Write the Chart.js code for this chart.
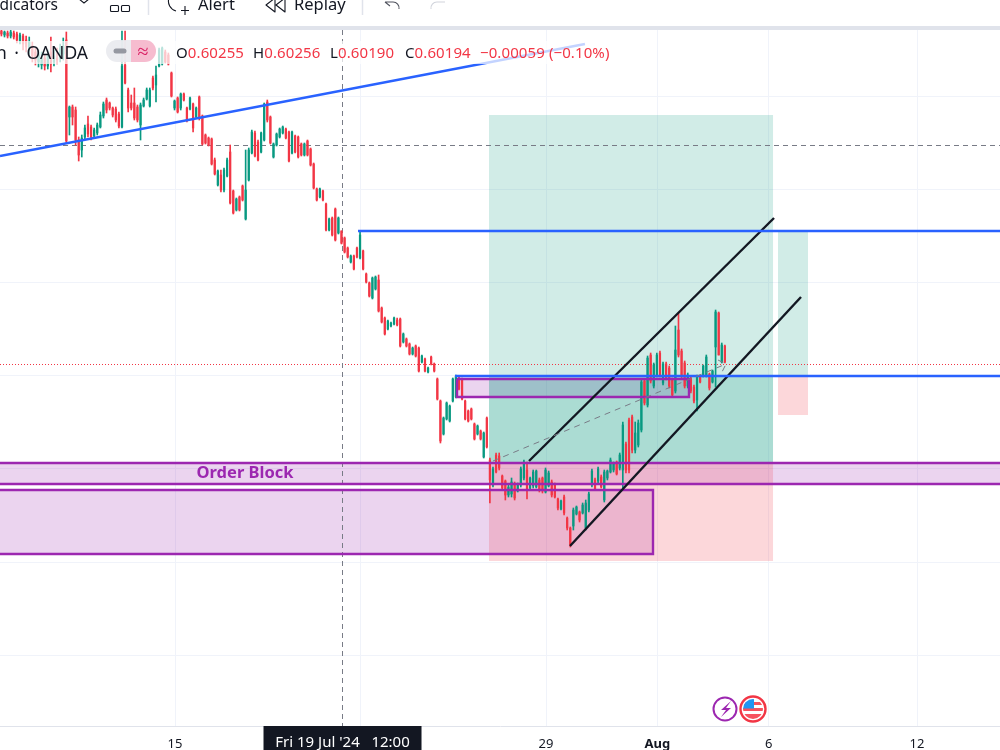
<!DOCTYPE html>
<html>
<head>
<meta charset="utf-8">
<title>NZD/USD OANDA</title>
<script src="https://cdn.jsdelivr.net/npm/chart.js@4/dist/chart.umd.js"></script>
<style>
  html, body { margin: 0; padding: 0; background: #fff; overflow: hidden; }
  #wrap { position: relative; width: 1000px; height: 750px; overflow: hidden; font-family: "Noto Sans", sans-serif; color: #131722; }
  canvas { position: absolute; left: 0; top: 0; }
  #toolbar { position: absolute; left: 0; top: 0; width: 1000px; height: 26px; background: #fff; border-bottom: 4px solid #e0e3eb; overflow: hidden; }
  #toolbar span { position: absolute; top: -6px; font-size: 16.5px; line-height: 20px; white-space: nowrap; }
  #toolbar svg { position: absolute; left: 0; top: 0; }
  #legend { position: absolute; left: 0; top: 41px; width: 612px; height: 23px; background: rgba(255,255,255,.72); }
  #legend span { position: absolute; top: 0; line-height: 23px; font-size: 15px; letter-spacing: .1px; white-space: nowrap; color: #f23645; }
  #legend span b { font-weight: 400; color: #131722; }
  #legend .name { right: 524px; font-size: 17.5px; word-spacing: 3px; letter-spacing: 0; color: #131722; }
  #badges { position: absolute; left: 0; top: 0; }
</style>
</head>
<body>
<div id="wrap">
  <canvas id="chart" width="1000" height="750"></canvas>

  <div id="legend">
    <span class="name">NZD/USD · 2h · OANDA</span>
    <span style="left:176px"><b>O</b>0.60255</span>
    <span style="left:253px"><b>H</b>0.60256</span>
    <span style="left:330px"><b>L</b>0.60190</span>
    <span style="left:405px"><b>C</b>0.60194</span>
    <span style="left:480px">−0.00059 (−0.10%)</span>
  </div>

  <svg id="badges" width="1000" height="750" fill="none">
    <path d="M117 40h14v22h-14a11 11 0 0 1 0-22z" fill="#e9eaee" fill-opacity=".9"/>
    <path d="M131 40h14a11 11 0 0 1 0 22h-14z" fill="#f5b8cc" fill-opacity=".95"/>
    <line x1="116" y1="51" x2="124" y2="51" stroke="#9598a1" stroke-width="5" stroke-linecap="round"/>
    <text x="143" y="58" text-anchor="middle" font-size="20" font-family="Noto Sans" fill="#d81b60">≈</text>
    <!-- session and flag badges above the time axis -->
    <circle cx="725" cy="709" r="11.5" fill="#fff" stroke="#9c27b0" stroke-width="2"/>
    <path d="M731 701l-10 9h5l-5 7 10-9h-5z" fill="#9c27b0"/>
    <circle cx="753" cy="709" r="12.5" fill="#fff" stroke="#f23645" stroke-width="2.4"/>
    <clipPath id="flag"><circle cx="753" cy="709" r="10"/></clipPath>
    <g clip-path="url(#flag)">
      <rect x="743" y="699" width="20" height="20" fill="#fff"/>
      <rect x="743" y="702" width="20" height="3" fill="#f7525f"/>
      <rect x="743" y="708" width="20" height="3" fill="#f7525f"/>
      <rect x="743" y="714" width="20" height="5" fill="#f7525f"/>
      <rect x="743" y="699" width="11" height="9.500" fill="#2196f3"/>
    </g>
  </svg>

  <div id="toolbar">
    <span style="right:942px;font-size:15.5px">Indicators</span>
    <span style="left:198px">Alert</span>
    <span style="left:294px">Replay</span>
    <svg width="1000" height="26" fill="none" stroke="#131722" stroke-width="1.1">
      <path d="M79 -1l5 4 5-4"/>
      <rect x="110.500" y="5.500" width="8" height="6" rx="1"/>
      <rect x="121.500" y="5.500" width="8" height="6" rx="1"/>
      <line x1="148.500" y1="0" x2="148.500" y2="15" stroke="#e0e3eb" stroke-width="1.500"/>
      <path d="M169 -2a10 10 0 0 0 7 13"/>
      <path d="M185 6v9M181 10.500h8"/>
      <path d="M275 -2l-9 7 9 7zM285 -2l-9 7 9 7z" stroke-linejoin="round"/>
      <line x1="362.500" y1="0" x2="362.500" y2="15" stroke="#e0e3eb" stroke-width="1.500"/>
      <path d="M385 2l5 4M385 2h8a6 6 0 0 1 6 7" stroke="#50535e"/>
      <path d="M445 2h-8a6 6 0 0 0-6 7" stroke="#d1d4dc"/>
    </svg>
  </div>
</div>

<script>
// 2h candles, prices in points (1e-5). Day numbers count trading days from Mon 15 Jul.
const firstBarDay = -4.679;
const barsPerDay = 12;

const opens = [
  61255,61235,61245,61230,61245,61240,61205,61230,61210,61170,61180,61150,61100,61085,61120,61080,61150,61100,61120,61120,61140,61210,
  60825,60875,60860,60710,60660,60725,60790,60775,60730,60745,60775,60830,60910,60895,60870,60865,60840,60775,61085,60960,60895,60895,
  60875,60785,60880,60915,60880,61020,60985,61080,61090,61150,61135,61045,60870,60920,60870,60940,60870,60865,60890,60825,60925,60830,
  60735,60720,60715,60610,60485,60535,60460,60530,60650,60455,60360,60425,60480,60315,60510,60645,60745,60700,60650,60710,60900,60825,
  60625,60685,60725,60745,60765,60750,60645,60730,60725,60690,60635,60705,60665,60590,60465,60425,60455,60390,60260,60320,60365,60245,
  60255,60220,60170,60100,60130,60170,60120,60155,60040,59995,59920,59965,60010,59870,59820,59765,59780,59790,59810,59815,59700,59715,
  59690,59640,59680,59670,59600,59615,59550,59625,59590,59515,59405,59240,59315,59305,59405,59425,59520,59515,59405,59355,59365,59290,
  59240,59255,59125,59320,59110,58985,59135,59130,59030,59005,58935,58940,58990,58955,58985,59020,59060,58970,58980,58975,59010,59020,
  58950,58980,59000,58985,58915,58865,58925,58820,58770,58780,58840,58850,58845,58770,58860,58985,59010,59005,59025,58910,59020,59050,
  59060,59100,59070,59060,59190,59310,59325,59160,59185,59260,59505,59385,59635,59480,59535,59645,59495,59590,59570,59510,59455,59760,
  59655,59595,59480,59520,59475,59410,59530,59530,59535,59540,59500,59675,59845,59600,59680
];
const highs = [
  61260,61255,61255,61260,61255,61250,61245,61240,61230,61225,61200,61170,61160,61150,61135,61160,61225,61160,61170,61190,61220,61250,
  60880,60885,60875,60725,60735,60785,60830,60785,60770,60795,60850,60900,60920,60900,60875,60875,60850,61255,61255,60970,60935,60970,
  60885,60895,60920,60970,60970,61030,61080,61170,61175,61160,61145,61050,60910,60925,60945,60945,60875,60925,60895,60875,60930,60835,
  60740,60725,60720,60620,60560,60560,60570,60620,60685,60460,60420,60430,60485,60660,60670,60760,60755,60710,60750,60895,60910,60830,
  60695,60745,60770,60780,60770,60755,60755,60735,60730,60695,60695,60710,60670,60595,60470,60470,60460,60395,60320,60325,60370,60325,
  60256,60225,60175,60135,60135,60175,60255,60160,60045,60000,60025,60030,60035,59875,59825,59810,59800,59825,59820,59820,59745,59720,
  59695,59675,59685,59675,59635,59620,59575,59630,59595,59520,59410,59325,59400,59385,59520,59535,59525,59520,59410,59360,59370,59295,
  59285,59260,59250,59325,59120,59075,59145,59145,59035,59010,58985,59020,59000,58995,59075,59110,59100,59025,59060,59060,59020,59025,
  59070,59055,59010,58995,58920,58910,58935,58825,58775,58870,58880,58855,58895,58910,58950,59065,59020,59075,59035,59060,59060,59120,
  59100,59105,59145,59300,59200,59320,59335,59300,59310,59510,59515,59630,59645,59595,59645,59655,59600,59600,59580,59520,59780,59845,
  59665,59605,59545,59530,59485,59535,59535,59585,59635,59545,59560,59860,59850,59695,59685
];
const lows = [
  61230,61225,61220,61220,61215,61195,61190,61160,61150,61140,61100,61085,61075,61065,61060,61065,61050,61080,61090,61100,61110,60695,
  60735,60785,60685,60605,60625,60710,60725,60710,60720,60735,60770,60820,60845,60860,60825,60800,60770,60770,60990,60850,60860,60810,
  60800,60710,60875,60910,60875,60960,60900,61075,61085,61095,61085,60925,60860,60845,60860,60905,60800,60860,60750,60820,60810,60685,
  60690,60680,60585,60535,60480,60450,60450,60525,60390,60340,60355,60355,60405,60310,60505,60640,60625,60605,60645,60705,60800,60690,
  60620,60680,60720,60740,60715,60600,60640,60645,60620,60630,60630,60630,60580,60465,60405,60420,60405,60255,60255,60230,60205,60240,
  60190,60145,60120,60095,60060,60120,60115,60060,59995,59925,59915,59960,59850,59795,59735,59760,59775,59785,59780,59675,59695,59675,
  59635,59635,59625,59550,59595,59550,59545,59585,59550,59410,59195,59235,59310,59300,59400,59420,59460,59410,59310,59300,59310,59210,
  59235,59210,59120,59170,58895,58975,59045,59060,58960,58910,58925,58925,58910,58950,58975,59010,58915,58960,58970,58970,58950,58945,
  58945,58975,58925,58920,58860,58860,58835,58760,58675,58760,58835,58800,58840,58760,58850,58975,58960,58995,58970,58900,59010,59045,
  59050,59035,59060,58970,59045,59045,59145,59145,59175,59250,59385,59375,59495,59470,59525,59525,59485,59510,59470,59425,59445,59625,
  59520,59470,59470,59445,59395,59355,59495,59525,59525,59460,59495,59475,59635,59595,59595
];
const closes = [
  61240,61250,61230,61250,61225,61210,61235,61190,61175,61200,61130,61110,61140,61120,61080,61130,61090,61130,61110,61170,61180,60705,
  60875,60825,60710,60635,60720,60770,60740,60725,60760,60785,60835,60890,60860,60870,60835,60810,60780,61080,60995,60870,60870,60820,
  60810,60885,60910,60960,60960,60970,61035,61160,61170,61100,61090,60930,60905,60850,60940,60910,60810,60920,60770,60870,60820,60690,
  60695,60685,60590,60540,60555,60460,60560,60610,60395,60345,60415,60360,60410,60460,60660,60750,60630,60610,60745,60890,60810,60695,
  60690,60740,60765,60775,60720,60605,60750,60650,60625,60635,60690,60635,60585,60470,60410,60465,60410,60260,60315,60235,60210,60320,
  60194,60150,60125,60130,60065,60125,60235,60065,60000,59930,60020,60025,59855,59800,59740,59805,59795,59820,59785,59680,59740,59680,
  59640,59670,59630,59555,59630,59555,59570,59590,59555,59415,59205,59320,59395,59380,59515,59530,59465,59415,59315,59305,59315,59215,
  59280,59215,59245,59175,59010,59065,59050,59070,58970,58935,58975,59000,58920,58990,59065,59100,58960,59020,59050,59055,58960,58955,
  59060,59045,58935,58925,58870,58905,58845,58770,58685,58860,58875,58810,58885,58895,58940,59055,58965,59065,58975,59050,59055,59110,
  59095,59040,59135,59285,59060,59060,59160,59245,59295,59500,59395,59620,59505,59585,59635,59535,59590,59520,59480,59435,59660,59635,
  59530,59480,59535,59455,59405,59525,59500,59580,59625,59470,59555,59850,59635,59685,59600
];

// time axis
const xTickDays = [0, 5, 10, 13, 16, 20];
const xTickLabels = ["15", "22", "29", "Aug", "6", "12"];
const gridPrices = [60930, 60465, 60000, 59535, 59070, 58600, 58135];
const dayRange = [-4.717, 22.237];
const priceRange = [57780, 61260];

// crosshair and last price
const crossDay = 4.515;
const crossPrice = 60682.5;
const crossLabel = "Fri 19 Jul '24   12:00";
const lastPrice = 59587.5;

// drawn levels, [day, price] pairs
const trendLine = [[-4.717, 60630], [11.05, 61190]];
const resistance = [[4.933, 60255], [22.237, 60255]];
const support = [[7.547, 59530], [22.237, 59530]];
const channelUpper = [[9.542, 59105], [16.146, 60320]];
const channelLower = [[10.647, 58680], [16.873, 59925]];
const riskPath = [[8.571, 59105], [14.852, 59590]];
const riskTail = [[14.636, 59610], [14.852, 59590], [14.744, 59550]];

// boxes as [dayFrom, dayTo, priceTop, priceBottom]
const profitZone = [8.464, 16.119, 60835, 59100];
const profitZoneInner = [8.464, 16.119, 59530, 59100];
const lossZone = [8.464, 16.119, 59100, 58605];
const smallProfit = [16.253, 17.062, 60255, 59530];
const smallLoss = [16.253, 17.062, 59530, 59335];
const orderBlock = [-6, 24, 59095, 58990];
const lowerBlock = [-6, 12.884, 58960, 58640];
const entryBlock = [7.601, 13.854, 59515, 59425];
const blockLabel = { text: "Order Block", day: 1.887, price: 59045 };

const UP = "#089981", DOWN = "#f23645", BLUE = "#2962ff", PURPLE = "#9c27b0", INK = "#131722", CROSS = "#787b86";
const TEAL_FILL = "rgba(8,153,129,.19)", RED_FILL = "rgba(242,54,69,.2)", PURPLE_FILL = "rgba(156,39,176,.2)";
const FONT = '"Noto Sans", sans-serif';

const barDays = opens.map((_, i) => firstBarDay + i / barsPerDay);
const barColors = opens.map((o, i) => (closes[i] >= o ? UP : DOWN));

function pts(pairs) {
  return pairs.map(p => ({ x: p[0], y: p[1] }));
}

function line(pairs, color, width, dash, order) {
  return {
    type: "line", data: pts(pairs), borderColor: color, borderWidth: width,
    borderDash: dash || [], pointRadius: 0, fill: false, tension: 0, order: order
  };
}

function rectPath(b) {
  return [[b[0], b[2]], [b[1], b[2]], [b[1], b[3]], [b[0], b[3]], [b[0], b[2]]];
}

function zone(b, color) {
  return {
    type: "line", data: pts(rectPath(b)), backgroundColor: color, borderWidth: 0,
    pointRadius: 0, fill: "shape", tension: 0, order: 6
  };
}

// boxes with a fill under the candles and an outline over them
function outlined(b) {
  return [zone(b, PURPLE_FILL), line(rectPath(b), PURPLE, 2.4, [], 2)];
}

// crosshair time tag and the zone caption
const overlayText = {
  id: "overlayText",
  afterDraw(chart) {
    const { ctx, scales, chartArea } = chart;
    const cx = scales.x.getPixelForValue(crossDay);
    ctx.save();
    ctx.fillStyle = INK;
    ctx.fillRect(cx - 79, chartArea.bottom, 158, 750 - chartArea.bottom);
    ctx.fillStyle = "#fff";
    ctx.font = "15px " + FONT;
    ctx.textAlign = "center";
    ctx.textBaseline = "middle";
    ctx.fillText(crossLabel, cx, 743);
    ctx.fillStyle = PURPLE;
    ctx.font = "bold 16.5px " + FONT;
    ctx.fillText(blockLabel.text, scales.x.getPixelForValue(blockLabel.day), scales.y.getPixelForValue(blockLabel.price));
    ctx.restore();
  }
};

new Chart(document.getElementById("chart"), {
  type: "line",
  data: {
    datasets: [
      zone(profitZone, TEAL_FILL),
      zone(profitZoneInner, TEAL_FILL),
      zone(lossZone, RED_FILL),
      zone(smallProfit, TEAL_FILL),
      zone(smallLoss, RED_FILL),
      {
        type: "bar", data: barDays.map((x, i) => ({ x: x, y: [lows[i], highs[i]] })),
        backgroundColor: barColors, barThickness: 1, grouped: false, order: 4
      },
      {
        type: "bar", data: barDays.map((x, i) => ({ x: x, y: [opens[i], closes[i]] })),
        backgroundColor: barColors, barThickness: 1.6, grouped: false, order: 3
      },
      ...outlined(orderBlock),
      ...outlined(lowerBlock),
      ...outlined(entryBlock),
      line([[crossDay, priceRange[1]], [crossDay, priceRange[0]]], CROSS, 1, [5, 4], 5),
      line([[dayRange[0], crossPrice], [dayRange[1], crossPrice]], CROSS, 1, [5, 4], 5),
      line([[dayRange[0], lastPrice], [dayRange[1], lastPrice]], DOWN, 1, [1, 2], 5),
      line(riskPath, CROSS, 1, [6, 5], 1),
      line(riskTail, CROSS, 1, [6, 5], 1),
      line(trendLine, BLUE, 2.4, [], 1),
      line(resistance, BLUE, 2.4, [], 1),
      line(support, BLUE, 2.4, [], 1),
      line(channelUpper, INK, 2.4, [], 1),
      line(channelLower, INK, 2.4, [], 1)
    ]
  },
  options: {
    responsive: false,
    animation: false,
    events: [],
    layout: { padding: { top: 30, left: 0, right: 0, bottom: 0 } },
    plugins: { legend: { display: false }, tooltip: { enabled: false } },
    scales: {
      x: {
        type: "linear", position: "bottom", offset: false,
        min: dayRange[0], max: dayRange[1],
        afterBuildTicks: s => { s.ticks = xTickDays.map(v => ({ value: v })); },
        afterFit: s => { s.height = 24; },
        grid: { color: "#f0f3fa", drawTicks: false, offset: false },
        border: { color: "#e0e3eb" },
        ticks: {
          autoSkip: false, maxRotation: 0, padding: 10, color: INK,
          font: c => ({ family: FONT, size: 13, weight: c.tick && c.tick.value === 13 ? "bold" : "normal" }),
          callback: v => xTickLabels[xTickDays.indexOf(v)]
        }
      },
      y: {
        type: "linear", position: "right",
        min: priceRange[0], max: priceRange[1],
        afterBuildTicks: s => { s.ticks = gridPrices.map(v => ({ value: v })); },
        afterFit: s => { s.width = 0; },
        grid: { color: "#f0f3fa", drawTicks: false },
        border: { display: false },
        ticks: { display: false }
      }
    }
  },
  plugins: [overlayText]
});
</script>
</body>
</html>
